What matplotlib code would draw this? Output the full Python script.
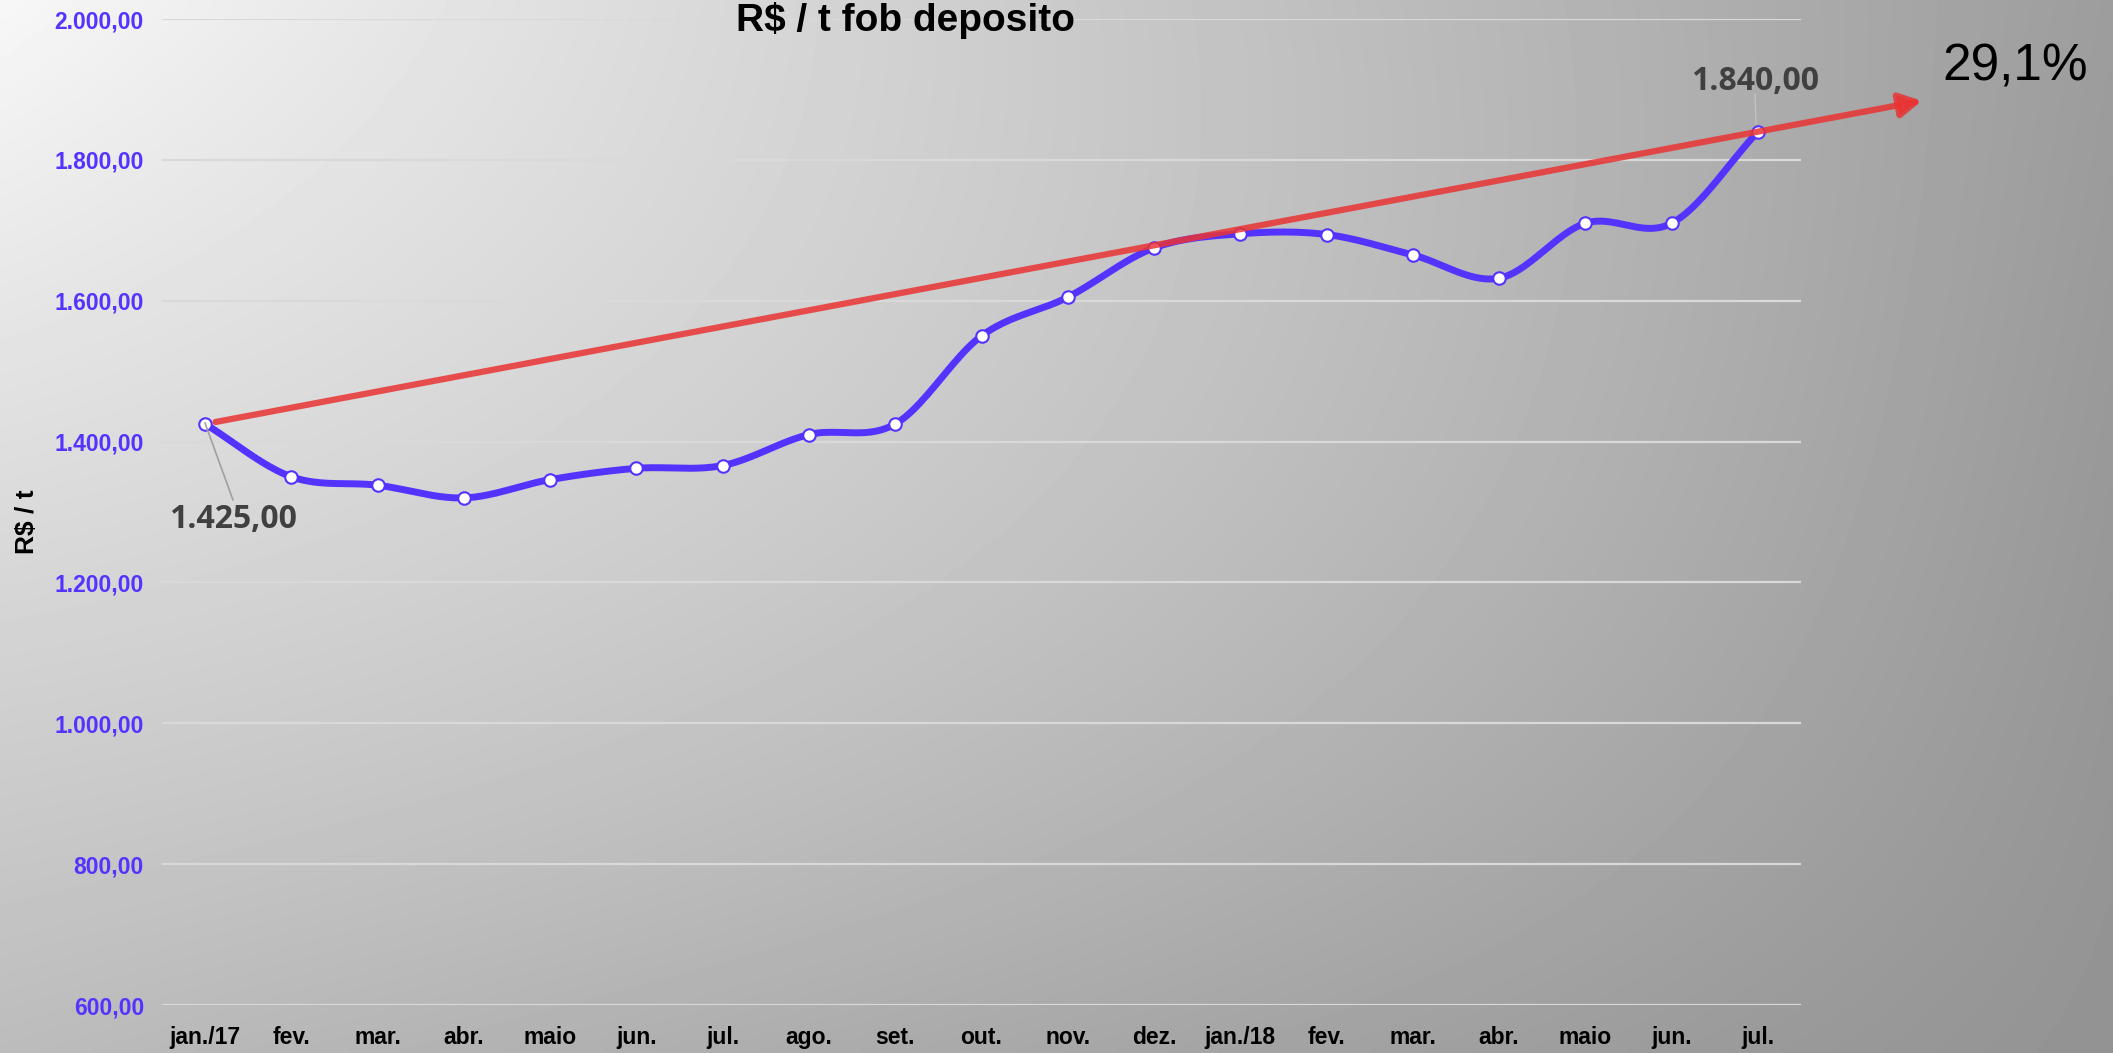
import matplotlib
matplotlib.use("Agg")
import matplotlib.pyplot as plt
import numpy as np

# data
months = ['jan./17', 'fev.', 'mar.', 'abr.', 'maio', 'jun.', 'jul.', 'ago.', 'set.',
          'out.', 'nov.', 'dez.', 'jan./18', 'fev.', 'mar.', 'abr.', 'maio', 'jun.', 'jul.']
prices = [1425, 1350, 1338, 1320, 1346, 1362, 1366, 1410, 1425,
          1550, 1605, 1675, 1695, 1694, 1665, 1632, 1710, 1710, 1840]
y_ticks = [600, 800, 1000, 1200, 1400, 1600, 1800, 2000]

plt.rcParams['font.family'] = ['Liberation Sans Narrow', 'Liberation Sans', 'DejaVu Sans']

BLUE = '#5533ff'
RED = '#ea3333'


def br(v, dec=2):
    s = f"{v:,.{dec}f}"
    return s.replace(',', 'X').replace('.', ',').replace('X', '.')


def smooth(x, y, n=24):
    # catmull-rom, like excel's smoothed line
    x = np.asarray(x, float)
    y = np.asarray(y, float)
    px = np.concatenate([[2 * x[0] - x[1]], x, [2 * x[-1] - x[-2]]])
    py = np.concatenate([[2 * y[0] - y[1]], y, [2 * y[-1] - y[-2]]])
    xs, ys = [], []
    t = np.linspace(0, 1, n, endpoint=False)
    for i in range(1, len(px) - 2):
        for p, out in ((px, xs), (py, ys)):
            p0, p1, p2, p3 = p[i - 1], p[i], p[i + 1], p[i + 2]
            out.extend(0.5 * (2 * p1 + (-p0 + p2) * t + (2 * p0 - 5 * p1 + 4 * p2 - p3) * t ** 2
                              + (-p0 + 3 * p1 - 3 * p2 + p3) * t ** 3))
    xs.append(x[-1])
    ys.append(y[-1])
    return np.array(xs), np.array(ys)


W, H = 2113, 1053
fig = plt.figure(figsize=(W / 100, H / 100), dpi=100)

# gradient background
bg = fig.add_axes([0, 0, 1, 1], zorder=0)
bg.axis('off')
U, V = np.meshgrid(np.linspace(0, 1, 300), np.linspace(0, 1, 150))
g = 247 - 90 * U - 59 * V + 49 * U * V + 160 * U * (1 - U) * V * (1 - V)
bg.imshow(g / 255, cmap='gray', vmin=0, vmax=1, aspect='auto', extent=[0, 1, 0, 1],
          origin='upper', interpolation='bilinear')

ax = fig.add_axes([162 / W, 1 - 1005 / H, (1801 - 162) / W, (1005 - 19) / H], zorder=1)
ax.set_facecolor('none')
x = np.arange(len(prices))

sx, sy = smooth(x, prices)
ax.plot(sx, sy, color=BLUE, lw=5, solid_capstyle='round', zorder=3)
ax.plot(x, prices, ls='none', marker='o', ms=9, mfc='white', mec=BLUE, mew=1.5, zorder=4)

# trend arrow from first to last value, extended
slope = (prices[-1] - prices[0]) / (len(prices) - 1)
x0, x1 = 0.12, 19.9
ax.annotate('', xy=(x1, prices[0] + slope * x1), xytext=(x0, prices[0] + slope * x0),
            arrowprops=dict(arrowstyle='-|>,head_length=0.65,head_width=0.36', mutation_scale=20,
                            lw=4.5, color=RED, alpha=0.85, shrinkA=0, shrinkB=0),
            annotation_clip=False, zorder=5)

growth = (prices[-1] / prices[0] - 1) * 100
fig.text(2015 / W, 1 - 67 / H, br(growth, 1) + '%', ha='center', va='center',
         fontsize=37, color='black')

# data labels
lbl_font = ['Open Sans', 'DejaVu Sans']
fig.text(233 / W, 1 - 519 / H, br(prices[0]), ha='center', va='center', fontsize=23,
         weight='bold', color='#404040', family=lbl_font)
fig.text(1755 / W, 1 - 81 / H, br(prices[-1]), ha='center', va='center', fontsize=23,
         weight='bold', color='#404040', family=lbl_font)
fig.add_artist(plt.Line2D([205 / W, 233 / W], [1 - 423 / H, 1 - 500 / H], color='#a0a0a0',
                          lw=1.2, zorder=2))
fig.add_artist(plt.Line2D([1755 / W, 1756 / W], [1 - 94 / H, 1 - 124 / H], color='#d8d8d8',
                          lw=0.8, alpha=0.6, zorder=2))

ax.set_xlim(-0.5, len(prices) - 0.5)
ax.set_ylim(y_ticks[0], y_ticks[-1])
ax.set_yticks(y_ticks)
ax.set_yticklabels([br(v) for v in y_ticks], color=BLUE, fontsize=16.5, weight='bold')
ax.set_xticks(x)
ax.set_xticklabels(months, fontsize=16.5, weight='bold', color='black')
ax.tick_params(length=0)
ax.tick_params(axis='y', pad=13)
ax.tick_params(axis='x', pad=15)
ax.yaxis.grid(True, color='#d9d9d9', lw=1.6)
ax.set_axisbelow(True)
for s in ax.spines.values():
    s.set_visible(False)

fig.text(27 / W, 1 - 522 / H, r'R\$ / t', rotation=90, ha='center', va='center',
         fontsize=19, weight='bold')
fig.text(906 / W, 1 - 31 / H, r'R\$ / t fob deposito', ha='center', va='baseline',
         fontsize=28, weight='bold')

fig.savefig('out.png', dpi=100)
